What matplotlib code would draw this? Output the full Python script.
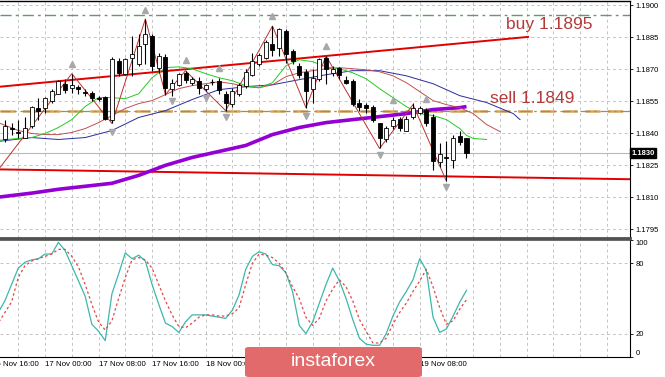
import numpy as np
import pandas as pd
import matplotlib
matplotlib.use('Agg')
import matplotlib.pyplot as plt
import matplotlib.transforms as mtransforms
from matplotlib.patches import Rectangle, FancyBboxPatch

plt.rcParams['font.family'] = ['Liberation Sans', 'DejaVu Sans']

# H1 candles
times = pd.date_range('2020-11-16 18:00', periods=70, freq='h')
t0 = pd.Timestamp('2020-11-17 00:00')

opens = [1.18371, 1.18427, 1.18408, 1.18380, 1.18436, 1.18520, 1.18516, 1.18553, 1.18585, 1.18632,
         1.18613, 1.18618, 1.18595, 1.18590, 1.18567, 1.18571, 1.18460, 1.18739, 1.18679, 1.18753,
         1.18725, 1.18818, 1.18856, 1.18707, 1.18758, 1.18609, 1.18627, 1.18683, 1.18637, 1.18646,
         1.18609, 1.18641, 1.18646, 1.18585, 1.18539, 1.18585, 1.18623, 1.18674, 1.18725, 1.18753,
         1.18818, 1.18800, 1.18879, 1.18786, 1.18716, 1.18688, 1.18609, 1.18655, 1.18753, 1.18683,
         1.18707, 1.18651, 1.18646, 1.18544, 1.18534, 1.18525, 1.18446, 1.18371, 1.18436, 1.18469,
         1.18413, 1.18478, 1.18497, 1.18511, 1.18478, 1.18264, 1.18287, 1.18273, 1.18385, 1.18376]
highs = [1.18460, 1.18446, 1.18460, 1.18474, 1.18530, 1.18567, 1.18571, 1.18609, 1.18651, 1.18655,
         1.18679, 1.18627, 1.18609, 1.18599, 1.18576, 1.18576, 1.18758, 1.18753, 1.18753, 1.18856,
         1.18865, 1.18935, 1.18865, 1.18776, 1.18772, 1.18655, 1.18683, 1.18693, 1.18665, 1.18665,
         1.18632, 1.18655, 1.18660, 1.18599, 1.18613, 1.18637, 1.18702, 1.18776, 1.18776, 1.18837,
         1.18902, 1.18893, 1.18888, 1.18795, 1.18730, 1.18702, 1.18702, 1.18753, 1.18762, 1.18716,
         1.18711, 1.18669, 1.18655, 1.18562, 1.18544, 1.18534, 1.18450, 1.18436, 1.18474, 1.18474,
         1.18483, 1.18544, 1.18530, 1.18516, 1.18492, 1.18353, 1.18366, 1.18390, 1.18413, 1.18380]
lows = [1.18357, 1.18390, 1.18380, 1.18376, 1.18427, 1.18460, 1.18497, 1.18544, 1.18585, 1.18590,
        1.18590, 1.18585, 1.18576, 1.18553, 1.18553, 1.18460, 1.18446, 1.18669, 1.18674, 1.18669,
        1.18716, 1.18725, 1.18693, 1.18683, 1.18581, 1.18576, 1.18623, 1.18637, 1.18627, 1.18585,
        1.18599, 1.18627, 1.18585, 1.18506, 1.18525, 1.18576, 1.18613, 1.18669, 1.18716, 1.18748,
        1.18762, 1.18762, 1.18730, 1.18725, 1.18660, 1.18520, 1.18544, 1.18646, 1.18632, 1.18669,
        1.18655, 1.18632, 1.18530, 1.18506, 1.18497, 1.18455, 1.18329, 1.18357, 1.18422, 1.18413,
        1.18413, 1.18469, 1.18492, 1.18436, 1.18227, 1.18241, 1.18176, 1.18236, 1.18343, 1.18283]
closes = [1.18436, 1.18418, 1.18399, 1.18427, 1.18525, 1.18506, 1.18567, 1.18599, 1.18646, 1.18604,
          1.18627, 1.18609, 1.18590, 1.18567, 1.18562, 1.18469, 1.18748, 1.18683, 1.18748, 1.18772,
          1.18809, 1.18865, 1.18716, 1.18762, 1.18613, 1.18637, 1.18679, 1.18651, 1.18655, 1.18613,
          1.18627, 1.18641, 1.18604, 1.18544, 1.18599, 1.18627, 1.18688, 1.18739, 1.18767, 1.18828,
          1.18790, 1.18888, 1.18772, 1.18739, 1.18674, 1.18599, 1.18660, 1.18748, 1.18702, 1.18702,
          1.18674, 1.18637, 1.18539, 1.18525, 1.18520, 1.18464, 1.18376, 1.18427, 1.18460, 1.18427,
          1.18469, 1.18520, 1.18516, 1.18446, 1.18268, 1.18301, 1.18283, 1.18380, 1.18357, 1.18306]

# moving averages (hour offsets from 17 Nov 00:00, shifted lines run past the last bar)
ma_fast_h = [-7, -4, -2, 0, 2, 4, 6, 8, 10, 12, 14, 16, 18, 20, 22, 24, 26, 28, 30, 32, 34, 36, 38,
             40, 42, 44, 46, 48, 50, 52, 54, 56, 58, 60, 62, 63, 64, 66]
ma_fast = [1.18367, 1.18376, 1.18380, 1.18399, 1.18427, 1.18464, 1.18525, 1.18567, 1.18567, 1.18562,
           1.18585, 1.18660, 1.18707, 1.18711, 1.18702, 1.18679, 1.18660, 1.18646, 1.18623, 1.18613,
           1.18637, 1.18716, 1.18744, 1.18735, 1.18711, 1.18702, 1.18683, 1.18655, 1.18609, 1.18567,
           1.18525, 1.18492, 1.18483, 1.18464, 1.18422, 1.18390, 1.18376, 1.18371]
ma_mid_h = [-7, -4, -2, 0, 2, 4, 6, 8, 10, 12, 14, 16, 18, 20, 22, 24, 26, 28, 30, 32, 34, 36, 38,
            40, 42, 44, 46, 48, 50, 52, 54, 56, 58, 60, 62, 64, 66, 68]
ma_mid = [1.18450, 1.18413, 1.18399, 1.18394, 1.18394, 1.18404, 1.18422, 1.18450, 1.18483, 1.18516,
          1.18539, 1.18553, 1.18581, 1.18609, 1.18623, 1.18632, 1.18641, 1.18632, 1.18618, 1.18613,
          1.18627, 1.18665, 1.18683, 1.18693, 1.18702, 1.18707, 1.18702, 1.18697, 1.18688, 1.18669,
          1.18637, 1.18595, 1.18553, 1.18534, 1.18520, 1.18492, 1.18441, 1.18408]
ma_slow_h = [-7, -2, 2, 6, 10, 14, 18, 22, 26, 30, 34, 38, 42, 46, 50, 54, 58, 62, 66, 70, 71]
ma_slow = [1.18362, 1.18380, 1.18371, 1.18380, 1.18413, 1.18474, 1.18506, 1.18558, 1.18604, 1.18618,
           1.18627, 1.18651, 1.18674, 1.18693, 1.18693, 1.18669, 1.18632, 1.18576, 1.18544, 1.18492,
           1.18464]
ma200_h = [-7, -2, 2, 6, 10, 14, 18, 22, 26, 30, 34, 38, 42, 46, 50, 54, 58, 62, 63]
ma200 = [1.18101, 1.18120, 1.18138, 1.18152, 1.18166, 1.18203, 1.18250, 1.18287, 1.18315, 1.18343,
         1.18394, 1.18427, 1.18450, 1.18464, 1.18478, 1.18492, 1.18511, 1.18520, 1.18525]

# zigzag and fractal arrows
zz_h = [-6.7, 4, 10, 15, 18, 21, 27, 34, 39, 42, 50, 55, 60]
zz_p = [1.18241, 1.18679, 1.18446, 1.18935, 1.18581, 1.18693, 1.18506, 1.18902, 1.18520, 1.18762,
        1.18329, 1.18534, 1.18176]
up_arrow_h = [4, 15, 21, 26, 34, 42, 52, 57]
up_arrow_p = [1.18725, 1.18977, 1.18744, 1.18707, 1.18949, 1.18809, 1.18558, 1.18562]
dn_arrow_h = [10, 19, 24, 27, 39, 50, 60]
dn_arrow_p = [1.18404, 1.18553, 1.18567, 1.18474, 1.18483, 1.18297, 1.18148]

# trend lines and levels
upper_tl_h = [-6.73, 72.2]
upper_tl_p = [1.18618, 1.18851]
lower_tl_h = [-6.73, 87.44]
lower_tl_p = [1.18231, 1.18185]
buy_level = 1.18955
sell_level = 1.18505

# stochastic
stoch_h = np.arange(-7, 64)
stoch_main = [38, 48, 62, 76, 81, 83, 84, 88, 88, 98, 91, 78, 65, 52, 28, 22, 14, 54, 71, 89,
              84, 87, 82, 62, 45, 29, 26, 21, 30, 36, 36, 36, 35, 34, 33, 40, 53, 75, 86, 90,
              88, 79, 78, 72, 56, 27, 20, 30, 46, 62, 76, 65, 50, 32, 16, 11, 10, 10, 20, 35,
              47, 56, 66, 84, 74, 34, 21, 24, 35, 47, 57]
stoch_signal = [29, 38, 47, 68, 78, 82, 84, 86, 88, 92, 92, 86, 77, 62, 45, 30, 23, 31, 50, 68,
                83, 85, 83, 76, 62, 48, 36, 26, 25, 29, 34, 36, 36, 35, 35, 37, 42, 62, 80, 88,
                87, 85, 80, 72, 60, 50, 34, 27, 33, 48, 58, 66, 60, 48, 32, 22, 12, 12, 16, 28,
                38, 46, 56, 65, 75, 60, 42, 28, 31, 41, 49]

price_ticks = [1.1795, 1.1810, 1.1825, 1.1840, 1.1855, 1.1870, 1.1885, 1.1900]
time_labels = pd.date_range('2020-11-16 16:00', '2020-11-19 08:00', freq='8h')

hours = ((times - t0) / pd.Timedelta('1h')).to_numpy()
W, H = 665, 377
fig = plt.figure(figsize=(W / 100, H / 100), dpi=100)
ax = fig.add_axes([0, 1 - 238 / H, 630 / W, 237 / H])
ax2 = fig.add_axes([0, 1 - 357 / H, 630 / W, 117 / H])

xmin, xmax = -6.73, 87.44
grid_kw = dict(color='#c4c4c4', lw=0.7, ls=(0, (3, 3)), zorder=0)
vgrid = np.arange(-4, 88, 4)

# ---- price panel ----
ax.set_xlim(xmin, xmax)
ax.set_ylim(1.17910, 1.19019)
for p in price_ticks:
    ax.axhline(p, **grid_kw)
for g in vgrid:
    ax.axvline(g, **grid_kw)

ax.plot(lower_tl_h, lower_tl_p, color='#e00000', lw=1.4, zorder=2)
ax.plot(upper_tl_h, upper_tl_p, color='#e00000', lw=1.4, zorder=2)
ax.axhline(buy_level, color='#5e9e5e', lw=1.0, ls=(0, (8, 3, 2, 3)), zorder=2)
ax.axhline(sell_level, color='#d8a25a', lw=1.8, ls=(0, (6, 3)), zorder=2)
ax.axhline(sell_level, color='#7a9e6a', lw=0.9, ls=(0, (8, 3, 2, 3)), zorder=2)
ax.axhline(closes[-1], color='#b8b8b8', lw=0.8, zorder=1)

ax.plot(ma200_h, ma200, color='#9400d3', lw=2.6, zorder=3, solid_capstyle='butt')
ax.plot(ma_slow_h, ma_slow, color='#2a2aa0', lw=0.7, zorder=3)
ax.plot(ma_mid_h, ma_mid, color='#c05050', lw=0.7, zorder=3)
ax.plot(ma_fast_h, ma_fast, color='#22cc22', lw=0.7, zorder=3)
ax.plot(zz_h, zz_p, color='#c03030', lw=0.7, zorder=4)

# candles
bw = 0.6
for h, o, hi, lo, c in zip(hours, opens, highs, lows, closes):
    ax.vlines(h, lo, hi, color='black', lw=0.8, zorder=5)
    if abs(c - o) < 0.00002:
        ax.hlines(o, h - bw / 2, h + bw / 2, color='black', lw=0.9, zorder=6)
    else:
        fc = 'white' if c > o else 'black'
        ax.add_patch(Rectangle((h - bw / 2, min(o, c)), bw, abs(c - o), facecolor=fc,
                               edgecolor='black', lw=0.6, zorder=6))

ax.plot(up_arrow_h, up_arrow_p, ls='none', marker='^', ms=4.5, color='#a8a8a8', zorder=7)
ax.plot(dn_arrow_h, dn_arrow_p, ls='none', marker='v', ms=4.5, color='#a8a8a8', zorder=7)

ax.text(68.9, 1.18911, 'buy 1.1895', color='#b23b3b', fontsize=12.5, va='center', ha='left')
ax.text(66.5, 1.18562, 'sell 1.1849', color='#b23b3b', fontsize=12.5, va='center', ha='left')

ax.yaxis.tick_right()
ax.set_yticks(price_ticks)
ax.set_yticklabels([f'{p:.4f}' for p in price_ticks], fontsize=5.5)
ax.tick_params(axis='y', length=2, pad=2, width=0.6)
ax.set_xticks([])
ax.spines['left'].set_visible(False)
ax.spines['top'].set_linewidth(1.0)
ax.spines['right'].set_linewidth(0.8)
ax.spines['bottom'].set_linewidth(2.0)
ax.spines['bottom'].set_color('#505050')

last = np.floor(closes[-1] * 1e4) / 1e4
ax.text(1.002, closes[-1], f'{last:.4f}', transform=mtransforms.blended_transform_factory(ax.transAxes, ax.transData),
        color='white', fontsize=5.5, va='center', ha='left', fontweight='bold',
        bbox=dict(facecolor='black', edgecolor='black', pad=1.0), clip_on=False)

# ---- stochastic panel ----
ax2.set_xlim(xmin, xmax)
ax2.set_ylim(0, 100)
for lvl in (20, 80):
    ax2.axhline(lvl, **grid_kw)
for g in vgrid:
    ax2.axvline(g, **grid_kw)
ax2.plot(stoch_h, stoch_main, color='#3cb8aa', lw=0.9, zorder=3)
ax2.plot(stoch_h, stoch_signal, color='#e04848', lw=0.9, ls=(0, (2, 2)), zorder=3)

ax2.yaxis.tick_right()
ax2.set_yticks([100, 80, 20, 0])
ax2.set_yticklabels(['100', '80', '20', '0'], fontsize=5.5)
labs = ax2.get_yticklabels()
labs[0].set_va('top')
labs[3].set_va('bottom')
ax2.tick_params(axis='y', length=2, pad=2, width=0.6)
ax2.set_xticks([])
ax2.spines['left'].set_visible(False)
ax2.spines['top'].set_linewidth(1.2)
ax2.spines['top'].set_color('#505050')
ax2.spines['right'].set_linewidth(0.8)
ax2.spines['bottom'].set_linewidth(0.8)

tr = mtransforms.blended_transform_factory(ax2.transData, ax2.transAxes)
for t in time_labels:
    hx = (t - t0) / pd.Timedelta('1h')
    ax2.text(hx, -0.068, t.strftime('%d %b %H:%M'), transform=tr, fontsize=5.7,
             va='center', ha='left', clip_on=False)

# watermark
fig.add_artist(FancyBboxPatch((245 / W, 0), 177 / W, 30 / H,
                              boxstyle='round,pad=0,rounding_size=0.006',
                              transform=fig.transFigure, facecolor='#e36a6a',
                              edgecolor='none', zorder=10))
fig.text(333 / W, 15 / H, 'instaforex', color='white', fontsize=14,
         ha='center', va='center', zorder=11)

fig.savefig('out.png', dpi=100)
